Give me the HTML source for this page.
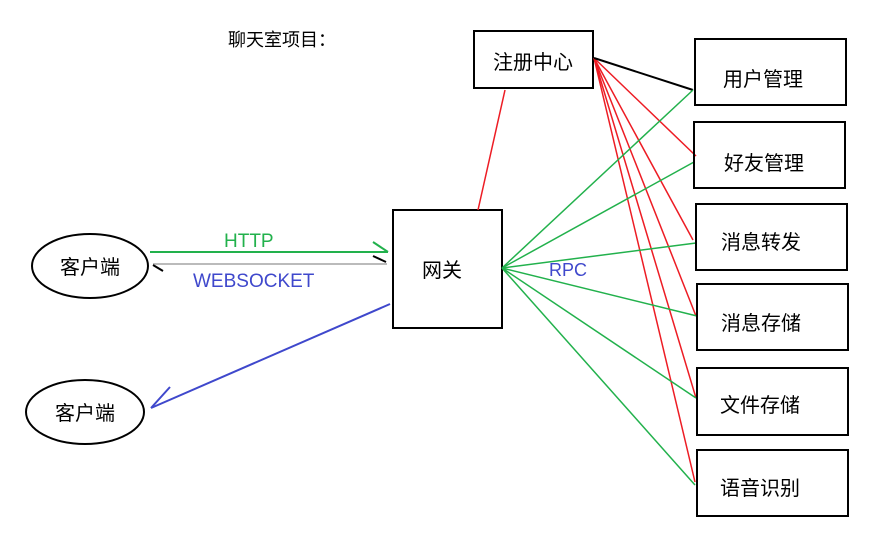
<!DOCTYPE html>
<html><head><meta charset="utf-8"><style>
body{margin:0;background:#fff;}
svg text{font-family:"Liberation Sans","Noto Sans CJK SC",sans-serif;}
</style></head><body>
<svg width="884" height="536" viewBox="0 0 884 536" xmlns="http://www.w3.org/2000/svg">
<rect width="884" height="536" fill="#fff"/>
<text x="228" y="46" font-size="18" fill="#000">聊天室项目：</text>
<ellipse cx="90" cy="266" rx="58" ry="32" fill="none" stroke="#000" stroke-width="2"/>
<text x="90" y="274" font-size="20" text-anchor="middle">客户端</text>
<ellipse cx="85" cy="412" rx="59" ry="32" fill="none" stroke="#000" stroke-width="2"/>
<text x="85" y="420" font-size="20" text-anchor="middle">客户端</text>
<line x1="150" y1="252" x2="388" y2="252" stroke="#22b14c" stroke-width="2"/>
<line x1="373" y1="242" x2="388" y2="252" stroke="#22b14c" stroke-width="2"/>
<line x1="153" y1="264" x2="387" y2="264" stroke="#bbb" stroke-width="2"/>
<line x1="373" y1="256" x2="386" y2="262" stroke="#000" stroke-width="2"/>
<line x1="153" y1="265" x2="163" y2="271" stroke="#000" stroke-width="2"/>
<text x="224" y="247" font-size="19" fill="#22b14c">HTTP</text>
<text x="193" y="287" font-size="19" fill="#3f48cc">WEBSOCKET</text>
<line x1="390" y1="304" x2="151" y2="408" stroke="#3f48cc" stroke-width="2"/>
<line x1="170" y1="387" x2="151" y2="408" stroke="#3f48cc" stroke-width="2"/>
<rect x="393" y="210" width="109" height="118" fill="none" stroke="#000" stroke-width="2"/>
<text x="442" y="277" font-size="20" text-anchor="middle">网关</text>
<rect x="474" y="31" width="119" height="57" fill="none" stroke="#000" stroke-width="2"/>
<text x="533" y="69" font-size="20" text-anchor="middle">注册中心</text>
<line x1="505" y1="90" x2="478" y2="210" stroke="#ed1c24" stroke-width="1.5"/>
<g stroke="#ed1c24" stroke-width="1.5">
<line x1="594" y1="58" x2="696" y2="156"/>
<line x1="594" y1="58" x2="693" y2="240"/>
<line x1="594" y1="58" x2="696" y2="316"/>
<line x1="594" y1="58" x2="696" y2="398"/>
<line x1="594" y1="58" x2="695" y2="482"/>
</g>
<line x1="594" y1="58" x2="693" y2="90" stroke="#000" stroke-width="2"/>
<g stroke="#22b14c" stroke-width="1.5">
<line x1="502" y1="268" x2="693" y2="90"/>
<line x1="502" y1="268" x2="694" y2="162"/>
<line x1="502" y1="268" x2="696" y2="243"/>
<line x1="502" y1="268" x2="697" y2="316"/>
<line x1="502" y1="268" x2="696" y2="398"/>
<line x1="502" y1="268" x2="695" y2="485"/>
</g>
<text x="549" y="276" font-size="18" fill="#3f48cc">RPC</text>
<g fill="none" stroke="#000" stroke-width="2">
<rect x="695" y="39" width="151" height="66"/>
<rect x="694" y="122" width="151" height="66"/>
<rect x="696" y="204" width="151" height="66"/>
<rect x="697" y="284" width="151" height="66"/>
<rect x="697" y="368" width="151" height="67"/>
<rect x="697" y="450" width="151" height="66"/>
</g>
<g font-size="20">
<text x="723" y="86">用户管理</text>
<text x="724" y="170">好友管理</text>
<text x="721" y="249">消息转发</text>
<text x="721" y="330">消息存储</text>
<text x="720" y="412">文件存储</text>
<text x="720" y="495">语音识别</text>
</g>
</svg>
</body></html>
